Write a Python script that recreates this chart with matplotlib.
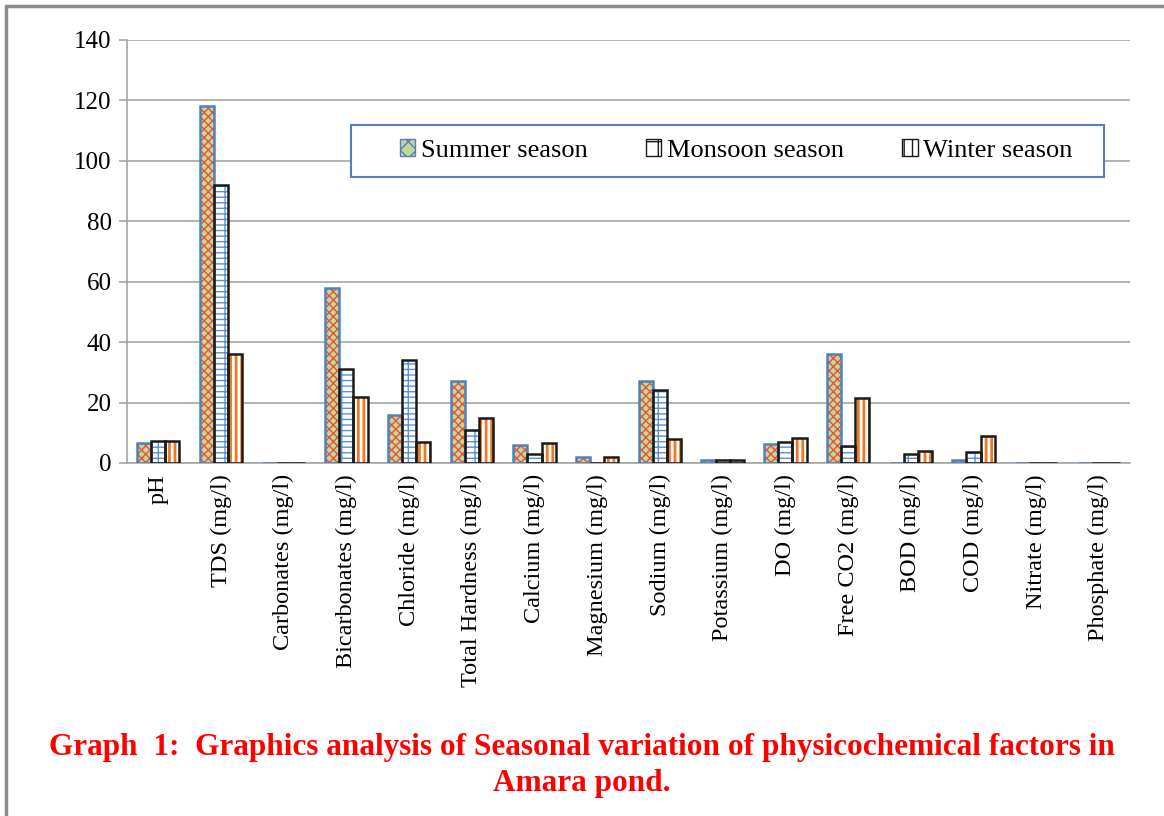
import numpy as np
import matplotlib
matplotlib.use("Agg")
import matplotlib.pyplot as plt
from matplotlib.patches import Rectangle

categories = ["pH", "TDS (mg/l)", "Carbonates (mg/l)", "Bicarbonates (mg/l)",
              "Chloride (mg/l)", "Total Hardness (mg/l)", "Calcium (mg/l)",
              "Magnesium (mg/l)", "Sodium (mg/l)", "Potassium (mg/l)", "DO (mg/l)",
              "Free CO2 (mg/l)", "BOD (mg/l)", "COD (mg/l)", "Nitrate (mg/l)",
              "Phosphate (mg/l)"]
summer = [6.6, 118, 0, 58, 16, 27, 6, 2, 27, 1, 6.3, 36, 0.1, 1, 0.1, 0.05]
monsoon = [7.2, 92, 0, 31, 34, 11, 3, 0.1, 24, 1, 7, 5.5, 3, 3.5, 0.1, 0.05]
winter = [7.2, 36, 0, 22, 7, 15, 6.7, 2, 8, 1, 8.3, 21.5, 4, 8.8, 0.1, 0.05]
series_names = ["Summer season", "Monsoon season", "Winter season"]

plt.rcParams["font.family"] = ["Liberation Serif", "DejaVu Serif"]

fig = plt.figure(figsize=(11.64, 8.16), dpi=100)
ax = fig.add_axes([0.109, 0.4326, 0.862, 0.5184])

x = np.arange(len(categories))
w = 0.225
offs = [-w, 0, w]

# summer: green fill, red cross hatch, blue edge
plt.rcParams["hatch.linewidth"] = 1.0
ax.bar(x + offs[0], summer, w, color="#c4d79b", edgecolor="#e8533a", hatch="xxxx", linewidth=0, zorder=2)
ax.bar(x + offs[0], summer, w, fill=False, edgecolor="#4f81bd", linewidth=1.8, zorder=3)
# monsoon: white with blue brick, black edge
ax.bar(x + offs[1], monsoon, w, color="white", edgecolor="#5b8fd6", hatch="+--", linewidth=0, zorder=2)
ax.bar(x + offs[1], monsoon, w, fill=False, edgecolor="#1a1a1a", linewidth=1.8, zorder=3)
# winter: white with orange vertical stripes, black edge
plt.rcParams["hatch.linewidth"] = 2.0
ax.bar(x + offs[2], winter, w, color="white", edgecolor="#f07820", hatch="|||", linewidth=0, zorder=2)
ax.bar(x + offs[2], winter, w, fill=False, edgecolor="#1a1a1a", linewidth=1.8, zorder=3)
plt.rcParams["hatch.linewidth"] = 1.0

ax.set_xlim(-0.5, len(categories) - 0.5)
ax.set_ylim(0, 140)
ax.set_yticks(range(0, 141, 20))
ax.yaxis.grid(True, color="#a6a6a6", linewidth=1.2, zorder=0)
ax.set_axisbelow(True)
for s in ["top", "right"]:
    ax.spines[s].set_visible(False)
ax.spines["left"].set_color("#a6a6a6")
ax.spines["bottom"].set_color("#a6a6a6")
ax.spines["left"].set_linewidth(1.2)
ax.spines["bottom"].set_linewidth(1.2)
ax.tick_params(axis="y", labelsize=18, color="#a6a6a6", length=6, width=1.2, pad=5)
ax.tick_params(axis="x", length=0, pad=8)
ax.set_xticks(x)
ax.set_xticklabels(categories, rotation=90, fontsize=17.5)

# legend box drawn separately, entries centered inside
ax.add_patch(Rectangle((0.223, 0.676), 0.751, 0.123, transform=ax.transAxes,
                       facecolor="white", edgecolor="#4f81bd", linewidth=1.5, zorder=4))
handles = [Rectangle((0, 0), 1, 1, facecolor="#c4d79b", edgecolor="#4f81bd", hatch="xx"),
           Rectangle((0, 0), 1, 1, facecolor="white", edgecolor="#1a1a1a", hatch="+"),
           Rectangle((0, 0), 1, 1, facecolor="white", edgecolor="#1a1a1a", hatch="||")]
leg = ax.legend(handles, series_names, ncol=3, loc="center",
                bbox_to_anchor=(0.607, 0.738), fontsize=19, frameon=False,
                handlelength=0.6, handleheight=0.6, handletextpad=0.2,
                columnspacing=2.2)
leg.set_zorder(5)

fig.text(0.5, 0.084, "Graph  1:  Graphics analysis of Seasonal variation of physicochemical factors in",
         ha="center", va="center", color="#ff0000", fontsize=22.5, fontweight="bold")
fig.text(0.5, 0.040, "Amara pond.", ha="center", va="center", color="#ff0000",
         fontsize=22.5, fontweight="bold")

# outer frame
fig.patches.append(Rectangle((0.005, -0.01), 1.0, 1.003, transform=fig.transFigure,
                             fill=False, edgecolor="#8c8c8c", linewidth=2.5))

fig.savefig("out.png", dpi=100)
